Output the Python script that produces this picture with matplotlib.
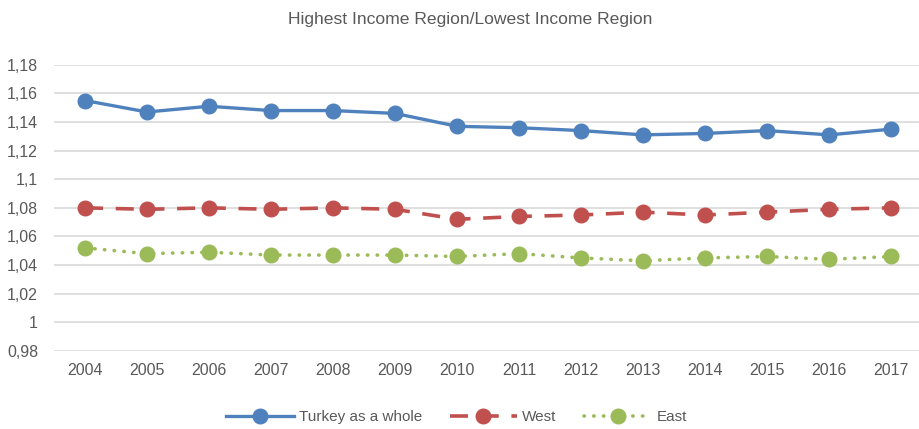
import matplotlib
matplotlib.use('Agg')
import matplotlib.pyplot as plt
from matplotlib.ticker import FuncFormatter

years = ['2004', '2005', '2006', '2007', '2008', '2009', '2010',
         '2011', '2012', '2013', '2014', '2015', '2016', '2017']
turkey = [1.155, 1.147, 1.151, 1.148, 1.148, 1.146, 1.137,
          1.136, 1.134, 1.131, 1.132, 1.134, 1.131, 1.135]
west = [1.080, 1.079, 1.080, 1.079, 1.080, 1.079, 1.072,
        1.074, 1.075, 1.077, 1.075, 1.077, 1.079, 1.080]
east = [1.052, 1.048, 1.049, 1.047, 1.047, 1.047, 1.046,
        1.048, 1.045, 1.043, 1.045, 1.046, 1.044, 1.046]
yticks = [0.98, 1.00, 1.02, 1.04, 1.06, 1.08, 1.10, 1.12, 1.14, 1.16, 1.18]

plt.rcParams['font.family'] = ['Liberation Sans', 'DejaVu Sans']
txt = '#595959'

fig = plt.figure(figsize=(9.19, 4.29), dpi=100)
ax = fig.add_axes([0.0588, 0.182, 0.9412, 0.667])

x = range(len(years))
ax.plot(x, turkey, color='#4F81BD', lw=2.4, marker='o', ms=10.5, label='Turkey as a whole', zorder=3)
ax.plot(x, west, color='#C0504D', lw=2.6, marker='o', ms=10.5, dashes=(5, 3.5), label='West', zorder=3)
ax.plot(x, east, color='#9BBB59', lw=2.6, marker='o', ms=10.5, dashes=(0.1, 2.6),
        dash_capstyle='round', label='East', zorder=3)

ax.set_ylim(0.98, 1.18)
ax.set_xlim(-0.5, 13.45)
ax.set_yticks(yticks)
ax.yaxis.set_major_formatter(FuncFormatter(lambda v, p: ('%.2f' % v).rstrip('0').rstrip('.').replace('.', ',')))
ax.set_xticks(list(x))
ax.set_xticklabels(years)
ax.grid(axis='y', color='#D9D9D9', lw=1.2)
ax.set_axisbelow(True)
for s in ax.spines.values():
    s.set_visible(False)
ax.tick_params(length=0, labelsize=11.5, colors=txt, pad=9)
ax.tick_params(axis='y', pad=11.5)

fig.text(0.512, 0.955, 'Highest Income Region/Lowest Income Region', ha='center', va='center',
         fontsize=12.6, color=txt)
fig.legend(loc='center', bbox_to_anchor=(0.497, 0.027), ncol=3, frameon=False, fontsize=11,
           labelcolor=txt, handlelength=4.4, columnspacing=1.8, handletextpad=0.35)

fig.savefig('out.png', dpi=100)
